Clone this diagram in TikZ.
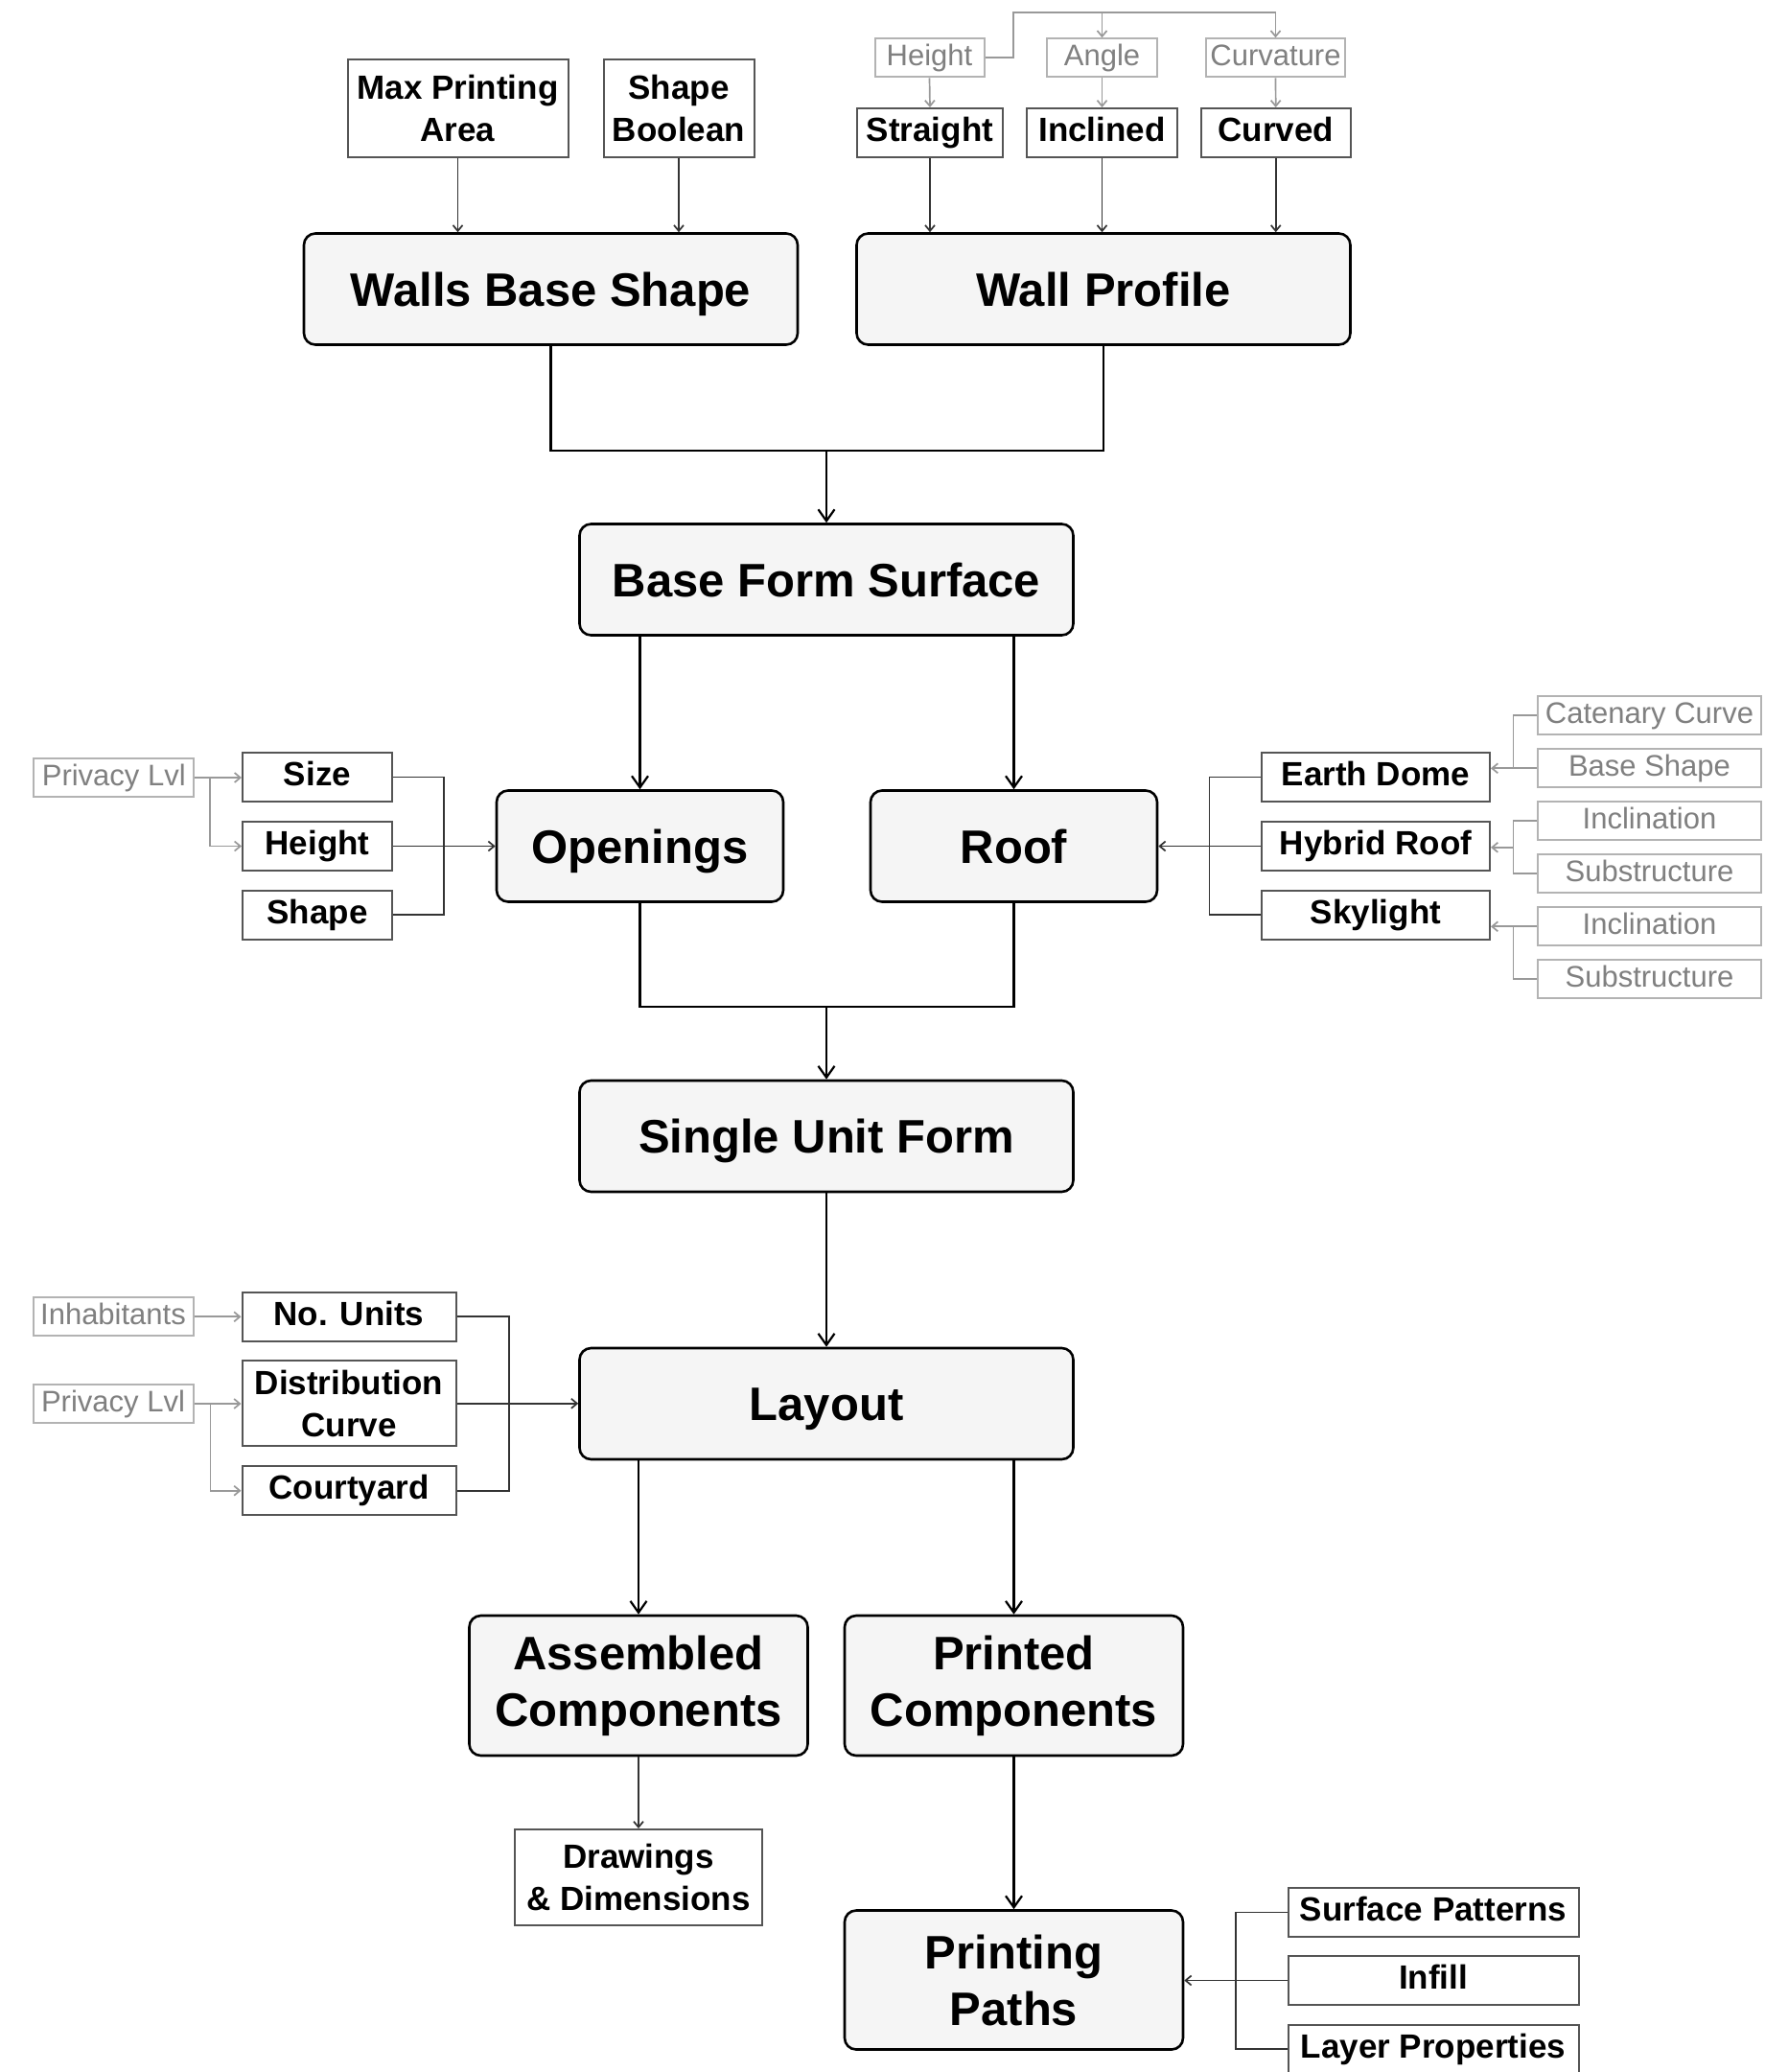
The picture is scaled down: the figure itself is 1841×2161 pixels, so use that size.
\documentclass[tikz,border=0pt]{standalone}
\usepackage{fontspec}
\setmainfont{Liberation Sans}
\usetikzlibrary{arrows.meta}
\definecolor{boxfill}{HTML}{F5F5F5}
\definecolor{smborder}{HTML}{555555}
\definecolor{grborder}{HTML}{B3B3B3}
\definecolor{grtext}{HTML}{808080}
\definecolor{grln}{HTML}{999999}
\definecolor{subln}{HTML}{333333}
\newcommand\bigtxt{\bfseries\fontsize{49}{59}\selectfont}
\newcommand\smtxt{\bfseries\fontsize{35}{44}\selectfont}
\newcommand\grtxt{\fontsize{31}{37}\selectfont}
\tikzset{
  bigbox/.style={draw=black, line width=2.6pt, fill=boxfill, rounded corners=12pt, font=\bigtxt, align=center, inner sep=0pt, minimum width=515pt, minimum height=116pt},
  bigone/.style={bigbox, text height=35pt, text depth=0pt},
  smbox/.style={draw=smborder, line width=2pt, fill=white, font=\smtxt, align=center, inner sep=0pt, minimum height=51pt},
  smone/.style={smbox, text height=25pt, text depth=7pt},
  grbox/.style={draw=grborder, line width=2pt, fill=white, font=\grtxt, text=grtext, align=center, inner sep=0pt, minimum height=40pt, text height=22.2pt, text depth=5pt},
  mainline/.style={line width=2.2pt, draw=black},
  mainarrow/.style={mainline, -{Straight Barb[length=12pt,width=17pt]}},
  subline/.style={line width=1.7pt, draw=subln},
  subarrow/.style={subline, -{Straight Barb[length=6pt,width=10pt]}},
  grline/.style={line width=1.7pt, draw=grln},
  grarrow/.style={grline, -{Straight Barb[length=6pt,width=10pt]}}
}
\begin{document}
\begin{tikzpicture}[x=1pt,y=-1pt]
\fill[white] (0,0) rectangle (1841,2161);
\useasboundingbox (0,0) rectangle (1841,2161);

% ---- top row
\node[smbox, minimum width=230pt, minimum height=102pt] (mpa) at (477.5,113) {Max Printing\\Area};
\node[smbox, minimum width=157pt, minimum height=102pt] (sb) at (708,113) {Shape\\Boolean};
\node[grbox, minimum width=114pt] (hg) at (969.5,60.3) {Height};
\node[grbox, minimum width=115pt] (ag) at (1149.5,60.3) {Angle};
\node[grbox, minimum width=145pt] (cg) at (1330.5,60.3) {Curvature};
\node[smone, minimum width=152pt] (st) at (970,138.5) {Straight};
\node[smone, minimum width=157pt] (inc) at (1149.5,138.5) {Inclined};
\node[smone, minimum width=156pt] (cur) at (1330.7,138.5) {Curved};

\node[bigone] (walls) at (574.5,301.5) {Walls Base Shape};
\node[bigone] (wp) at (1151,301.5) {Wall Profile};
\node[bigone] (bfs) at (862,604.5) {Base Form Surface};
\node[bigone, minimum width=299pt] (op) at (667.5,882.5) {Openings};
\node[bigone, minimum width=299pt] (roof) at (1057.5,882.5) {Roof};
\node[bigone] (suf) at (862,1185) {Single Unit Form};
\node[bigone] (lay) at (862,1464) {Layout};
\node[bigbox, minimum width=353pt, minimum height=146pt] (asm) at (666,1758) {Assembled\\Components};
\node[bigbox, minimum width=353pt, minimum height=146pt] (prc) at (1057.5,1758) {Printed\\Components};
\node[smbox, minimum width=258pt, minimum height=100pt] (drw) at (666,1958) {Drawings\\\& Dimensions};
\node[bigbox, minimum width=353pt, minimum height=145pt] (pp) at (1057.5,2065) {Printing\\Paths};
\node[smone, minimum width=303pt] (sp) at (1495,1994.5) {Surface Patterns};
\node[smone, minimum width=303pt] (inf) at (1495,2065.5) {Infill};
\node[smone, minimum width=303pt] (lp) at (1495,2137) {Layer Properties};

% ---- openings group
\node[grbox, minimum width=167pt] (pl1) at (118.8,811) {Privacy Lvl};
\node[smone, minimum width=156pt] (size) at (331,810.5) {Size};
\node[smone, minimum width=156pt] (hgt) at (331,882.5) {Height};
\node[smone, minimum width=156pt] (shp) at (331,954) {Shape};

% ---- roof group
\node[smone, minimum width=238pt] (ed) at (1435,810.5) {Earth Dome};
\node[smone, minimum width=238pt] (hr) at (1435,882.5) {Hybrid Roof};
\node[smone, minimum width=238pt] (sky) at (1435,954) {Skylight};
\node[grbox, minimum width=233pt] (cat) at (1720.5,746.3) {Catenary Curve};
\node[grbox, minimum width=233pt] (bsh) at (1720.5,801.3) {Base Shape};
\node[grbox, minimum width=233pt] (in1) at (1720.5,856.3) {Inclination};
\node[grbox, minimum width=233pt] (su1) at (1720.5,911.3) {Substructure};
\node[grbox, minimum width=233pt] (in2) at (1720.5,966.3) {Inclination};
\node[grbox, minimum width=233pt] (su2) at (1720.5,1021.3) {Substructure};

% ---- layout group
\node[grbox, minimum width=167pt] (inh) at (118,1373.3) {Inhabitants};
\node[grbox, minimum width=167pt] (pl2) at (118,1464) {Privacy Lvl};
\node[smone, minimum width=223pt] (nu) at (364,1373.3) {No. Units};
\node[smbox, minimum width=223pt, minimum height=89pt] (dc) at (364,1463.8) {Distribution\\Curve};
\node[smone, minimum width=223pt] (cy) at (364,1554.7) {Courtyard};

% ---- coordinates
\coordinate (tj) at (1057,12.7);
\coordinate (b1) at (862,470);
\coordinate (b2) at (862,1050);
\coordinate (pj1) at (219,811);
\coordinate (ob) at (463,882.5);
\coordinate (rb) at (1261.4,882.5);
\coordinate (rj1) at (1578.4,801.3);
\coordinate (rj2) at (1578.4,883.8);
\coordinate (rj3) at (1578.4,966.3);
\coordinate (pj2) at (219.5,1464);
\coordinate (lb) at (530.7,1464);
\coordinate (pb) at (1289,2066);

% ---- top connectors
\draw[grarrow] (hg.east) -| (tj) -| (cg.north);
\draw[grarrow] (tj -| ag.north) -- (ag.north);
\draw[grarrow] (hg.south) -- (st.north);
\draw[grarrow] (ag.south) -- (inc.north);
\draw[grarrow] (cg.south) -- (cur.north);
\draw[subarrow] (mpa.south) -- (mpa.south |- walls.north);
\draw[subarrow] (sb.south) -- (sb.south |- walls.north);
\draw[subarrow] (st.south) -- (st.south |- wp.north);
\draw[subarrow] (inc.south) -- (inc.south |- wp.north);
\draw[subarrow] (cur.south) -- (cur.south |- wp.north);

% ---- main spine
\draw[mainline] (walls.south) |- (b1) -| (wp.south);
\draw[mainarrow] (b1) -- (bfs.north);
\draw[mainarrow] (bfs.south -| op.north) -- (op.north);
\draw[mainarrow] (bfs.south -| roof.north) -- (roof.north);
\draw[mainline] (op.south) |- (b2) -| (roof.south);
\draw[mainarrow] (b2) -- (suf.north);
\draw[mainarrow] (suf.south) -- (lay.north);
\draw[mainarrow] (lay.south -| asm.north) -- (asm.north);
\draw[mainarrow] (lay.south -| prc.north) -- (prc.north);
\draw[subarrow] (asm.south) -- (drw.north);
\draw[mainarrow] (prc.south) -- (pp.north);

% ---- printing paths group
\draw[subline] (sp.west) -| (pb) |- (lp.west);
\draw[subarrow] (inf.west) -- (inf.west -| pp.east);

% ---- openings group
\draw[grarrow] (pl1.east) -- (pl1.east -| size.west);
\draw[grarrow] (pj1) |- (hgt.west);
\draw[subline] (size.east) -| (ob) |- (shp.east);
\draw[subarrow] (hgt.east) -- (op.west);

% ---- roof group
\draw[subline] (ed.west) -| (rb) |- (sky.west);
\draw[subarrow] (hr.west) -- (roof.east);
\draw[grline] (cat.west) -| (rj1);
\draw[grarrow] (bsh.west) -- (bsh.west -| ed.east);
\draw[grline] (in1.west) -| (rj2) |- (su1.west);
\draw[grarrow] (rj2) -- (rj2 -| hr.east);
\draw[grarrow] (in2.west) -- (in2.west -| sky.east);
\draw[grline] (su2.west) -| (rj3);

% ---- layout group
\draw[grarrow] (inh.east) -- (inh.east -| nu.west);
\draw[grarrow] (pl2.east) -- (pl2.east -| dc.west);
\draw[grarrow] (pj2) |- (cy.west);
\draw[subline] (nu.east) -| (lb) |- (cy.east);
\draw[subarrow] (dc.east) -- (dc.east -| lay.west);
\end{tikzpicture}
\end{document}
